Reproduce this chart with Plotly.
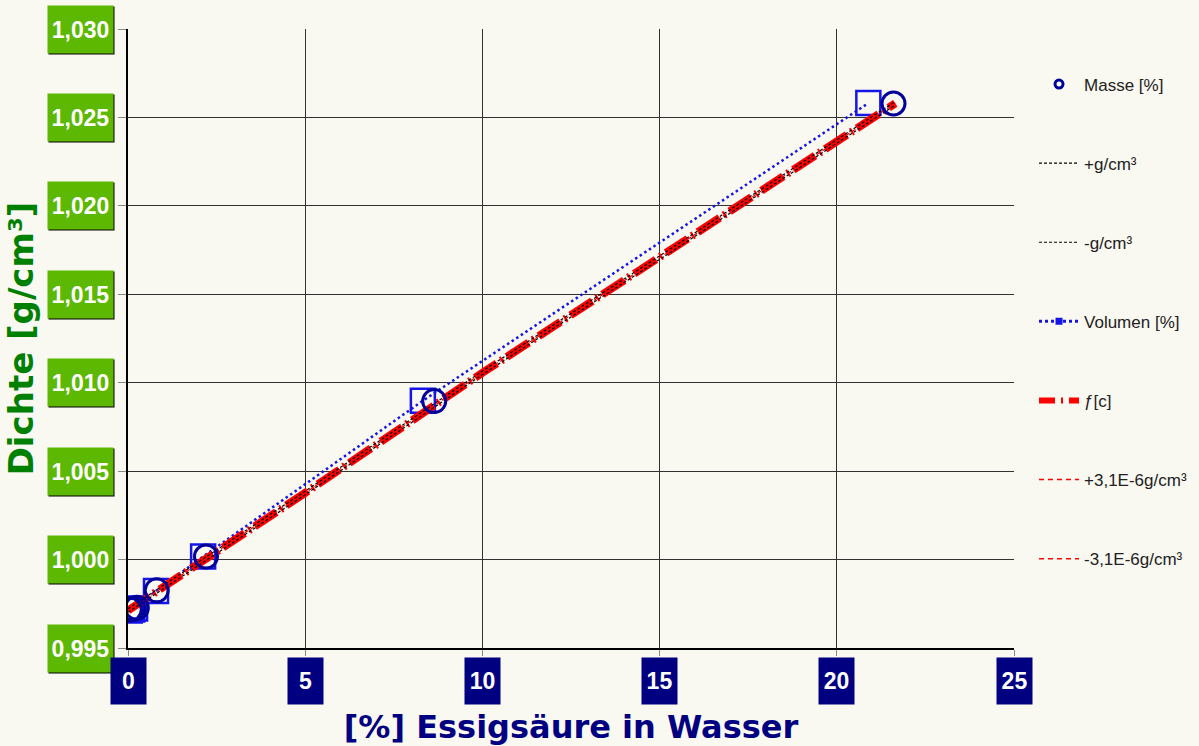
import plotly.graph_objects as go

# ---- data ----
x_ticks = [0, 5, 10, 15, 20, 25]
x_tick_labels = ["0", "5", "10", "15", "20", "25"]
y_ticks = [0.995, 1.000, 1.005, 1.010, 1.015, 1.020, 1.025, 1.030]
y_tick_labels = ["0,995", "1,000", "1,005", "1,010", "1,015", "1,020", "1,025", "1,030"]

masse_pct = [0.05, 0.15, 0.25, 0.81, 2.20, 8.64, 21.60]
masse_dichte = [0.99718, 0.99722, 0.99727, 0.99826, 1.00017, 1.00896, 1.02579]

vol_pct = [0.05, 0.12, 0.20, 0.79, 2.12, 8.32, 20.89]
vol_dichte = [0.99712, 0.99718, 0.99724, 0.99823, 1.00017, 1.00898, 1.02581]

fit_pct = [0, 5, 10, 15, 20, 21.65]
fit_dichte = [0.99712, 1.00377, 1.01056, 1.01707, 1.02364, 1.02580]

tol_g = 0.0001
tol_fit = 0.0000031

# ---- styles ----
BG = "#F9F8F1"
NAVY = "#00009A"
BLUE = "#1515E8"
RED = "#FF0000"
GREEN_BOX = "#5CB800"
GREEN_TXT = "#008000"
AX_NAVY = "#000080"
TICKFONT = "Liberation Sans, Arial, sans-serif"
TITLEFONT = "DejaVu Sans, Verdana, sans-serif"

fig = go.Figure()

# legend-only entries (small legend symbols)
legend_entries = [
    dict(name="Masse [%]", mode="markers",
         marker=dict(symbol="circle-open", size=8, color=NAVY, line=dict(width=3, color=NAVY))),
    dict(name="+g/cm³", mode="lines", line=dict(color="black", width=1.2, dash="3px,2px")),
    dict(name="-g/cm³", mode="lines", line=dict(color="black", width=1.2, dash="3px,2px")),
    dict(name="Volumen [%]", mode="lines+markers",
         line=dict(color=BLUE, width=3, dash="3px,3px"),
         marker=dict(symbol="square", size=7, color=BLUE)),
    dict(name="ƒ[c]", mode="lines", line=dict(color=RED, width=6, dash="16px,6px,2px,6px")),
    dict(name="+3,1E-6g/cm³", mode="lines", line=dict(color=RED, width=1.5, dash="5px,4px")),
    dict(name="-3,1E-6g/cm³", mode="lines", line=dict(color=RED, width=1.5, dash="5px,4px")),
]
for i, e in enumerate(legend_entries):
    fig.add_trace(go.Scatter(x=[None], y=[None], legendgroup=f"g{i}", showlegend=True,
                             hoverinfo="skip", **e))

# actual data traces
fig.add_trace(go.Scatter(x=vol_pct, y=vol_dichte, mode="lines+markers", showlegend=False,
                         line=dict(color=BLUE, width=2.5, dash="2.5px,3px"),
                         marker=dict(symbol="square-open", size=24, color=BLUE,
                                     line=dict(width=2.5, color=BLUE))))
fig.add_trace(go.Scatter(x=fit_pct, y=fit_dichte, mode="lines", showlegend=False,
                         line=dict(color=RED, width=8, dash="26px,5px,2px,5px")))
fig.add_trace(go.Scatter(x=fit_pct, y=[v + tol_fit for v in fit_dichte], mode="lines",
                         showlegend=False, line=dict(color=RED, width=1, dash="4px,3px")))
fig.add_trace(go.Scatter(x=fit_pct, y=[v - tol_fit for v in fit_dichte], mode="lines",
                         showlegend=False, line=dict(color=RED, width=1, dash="4px,3px")))
fig.add_trace(go.Scatter(x=fit_pct, y=[v + tol_g for v in fit_dichte], mode="lines",
                         showlegend=False, line=dict(color="black", width=1.2, dash="3px,2px")))
fig.add_trace(go.Scatter(x=fit_pct, y=[v - tol_g for v in fit_dichte], mode="lines",
                         showlegend=False, line=dict(color="black", width=1.2, dash="3px,2px")))
fig.add_trace(go.Scatter(x=masse_pct, y=masse_dichte, mode="markers", showlegend=False,
                         marker=dict(symbol="circle-open", size=23, color=NAVY,
                                     line=dict(width=3, color=NAVY))))

annotations = []
for v, t in zip(y_ticks, y_tick_labels):
    annotations.append(dict(x=0, xref="paper", y=v, yref="y", xanchor="right", yanchor="middle",
                            xshift=-13, yshift=-1, text="", showarrow=False,
                            width=61, height=43, borderpad=2, bgcolor="black"))
    annotations.append(dict(x=0, xref="paper", y=v, yref="y", xanchor="right", yanchor="middle",
                            xshift=-14, text=f"<b>{t}</b>", showarrow=False,
                            width=61, height=43, borderpad=2, bgcolor=GREEN_BOX, align="center",
                            valign="middle", font=dict(family=TICKFONT, size=23, color="white")))
for v, t in zip(x_ticks, x_tick_labels):
    annotations.append(dict(x=v, xref="x", y=0, yref="paper", xanchor="center", yanchor="top",
                            yshift=-9, text=f"<b>{t}</b>", showarrow=False,
                            width=31, height=42, borderpad=2, bgcolor=AX_NAVY, align="center",
                            valign="middle", font=dict(family=TICKFONT, size=23, color="white")))

fig.update_layout(
    width=1199, height=746,
    paper_bgcolor=BG, plot_bgcolor=BG,
    margin=dict(l=128, r=185, t=29, b=98, autoexpand=False),
    annotations=annotations,
    showlegend=True,
    legend=dict(x=1.0226, xanchor="left", y=0.9394, yanchor="top", yref="paper",
                traceorder="grouped", tracegroupgap=54, itemwidth=40,
                bgcolor="rgba(0,0,0,0)",
                font=dict(family=TICKFONT, size=17, color="#222222")),
    xaxis=dict(range=[0, 25], tickvals=x_ticks, showticklabels=False, automargin=False,
               showgrid=True, gridcolor="#333333", gridwidth=1, zeroline=False,
               showline=True, linecolor="black", linewidth=2,
               ticks="outside", ticklen=6, tickcolor="#888888",
               title=dict(text="[%] Essigsäure in Wasser", standoff=62,
                          font=dict(family=TITLEFONT, size=32, color=AX_NAVY, weight="bold"))),
    yaxis=dict(range=[0.995, 1.030], tickvals=y_ticks, showticklabels=False, automargin=False,
               showgrid=True, gridcolor="#333333", gridwidth=1, zeroline=False,
               showline=True, linecolor="black", linewidth=2,
               ticks="outside", ticklen=8, tickcolor="#888888",
               title=dict(text="Dichte [g/cm³]", standoff=74,
                          font=dict(family=TITLEFONT, size=34, color=GREEN_TXT, weight="bold"))),
)

fig.write_html(
    "out.html",
    config={"displayModeBar": False},
    post_script="document.body.style.margin='0';document.body.style.background='#F9F8F1';",
)
